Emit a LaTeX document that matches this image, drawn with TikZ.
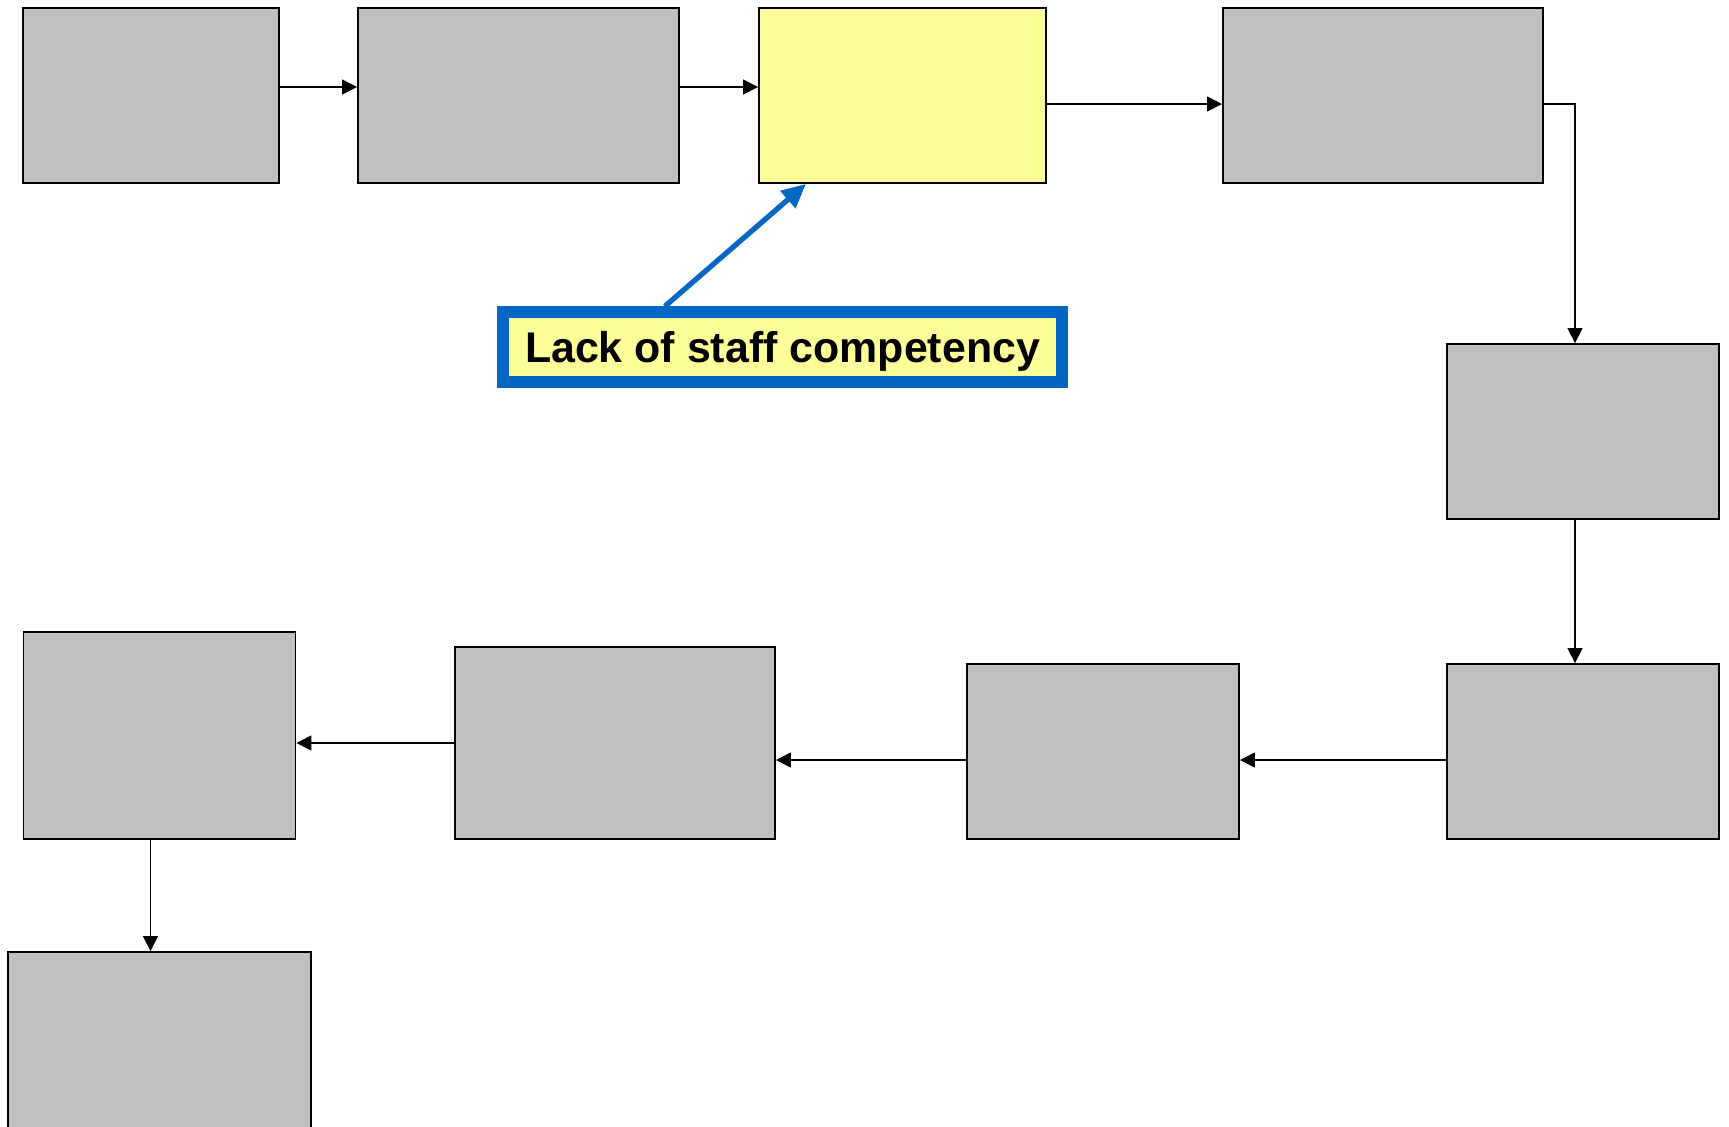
\documentclass[tikz,border=0pt]{standalone}
\usepackage{fontspec}
\setsansfont{Liberation Sans}
\usetikzlibrary{arrows.meta, positioning, calc}
\definecolor{boxgray}{RGB}{192,192,192}
\definecolor{hiyellow}{RGB}{255,255,153}
\definecolor{calloutblue}{RGB}{6,102,196}

\begin{document}
\begin{tikzpicture}[
    x=0.01cm, y=-0.01cm,
    box/.style={
        draw=black,
        fill=boxgray,
        line width=0.5pt,
        minimum height=1.75cm,
        inner sep=0pt
    },
    hot/.style={
        box,
        fill=hiyellow
    },
    callout/.style={
        draw=calloutblue,
        fill=hiyellow,
        line width=3.4pt,
        minimum width=5.59cm,
        minimum height=0.695cm,
        inner sep=0pt,
        text height=0.31cm,
        text depth=0pt,
        font=\sffamily\bfseries\fontsize{12.2}{14}\selectfont
    },
    arrow/.style={
        -{Triangle[length=0.15cm, width=0.15cm]},
        line width=0.45pt,
        draw=black
    },
    pointer/.style={
        -{Triangle[length=0.24cm, width=0.22cm]},
        line width=1.5pt,
        draw=calloutblue
    }
]
\useasboundingbox (0,0) rectangle (1729,1126);

% Nodes
\node (b1) [box, minimum width=2.56cm] at (151,95.5) {};
\node (b2) [box, minimum width=3.21cm] at (518.5,95.5) {};
\node (b3) [hot, minimum width=2.87cm] at (902.5,95.5) {};
\node (b4) [box, minimum width=3.2cm] at (1383,95.5) {};
\node (b5) [box, minimum width=2.72cm] at (1583,431.5) {};
\node (b6) [box, minimum width=2.72cm] at (1583,751.5) {};
\node (b7) [box, minimum width=2.72cm] at (1103,751.5) {};
\node (b8) [box, minimum width=3.2cm, minimum height=1.92cm] at (615,743) {};
\node (b9) [box, minimum width=2.72cm, minimum height=2.07cm] at (159.5,735.5) {};
\node (b10) [box, minimum width=3.03cm, minimum height=1.85cm] at (159.5,1044.5) {};

\node (cause) [callout] at (782.5,347) {Lack of staff competency};

% Paths
\draw [arrow] ([yshift=0.085cm]b1.east) -- ([yshift=0.085cm]b2.west);
\draw [arrow] ([yshift=0.085cm]b2.east) -- ([yshift=0.085cm]b3.west);
\draw [arrow] ([yshift=-0.085cm]b3.east) -- ([yshift=-0.085cm]b4.west);
\draw [arrow] ([yshift=-0.085cm]b4.east) -| ([xshift=-0.08cm]b5.north);
\draw [arrow] ([xshift=-0.08cm]b5.south) -- ([xshift=-0.08cm]b6.north);
\draw [arrow] ([yshift=-0.085cm]b6.west) -- ([yshift=-0.085cm]b7.east);
\draw [arrow] ([yshift=-0.085cm]b7.west) -- ([yshift=-0.085cm]b7.west -| b8.east);
\draw [arrow] (b8.west) -- (b8.west -| b9.east);
\draw [arrow] ([xshift=-0.09cm]b9.south) -- ([xshift=-0.09cm]b9.south |- b10.north);
\draw [pointer] ([xshift=-1.175cm]cause.north) -- ([xshift=-0.965cm]b3.south);

\end{tikzpicture}
\end{document}
